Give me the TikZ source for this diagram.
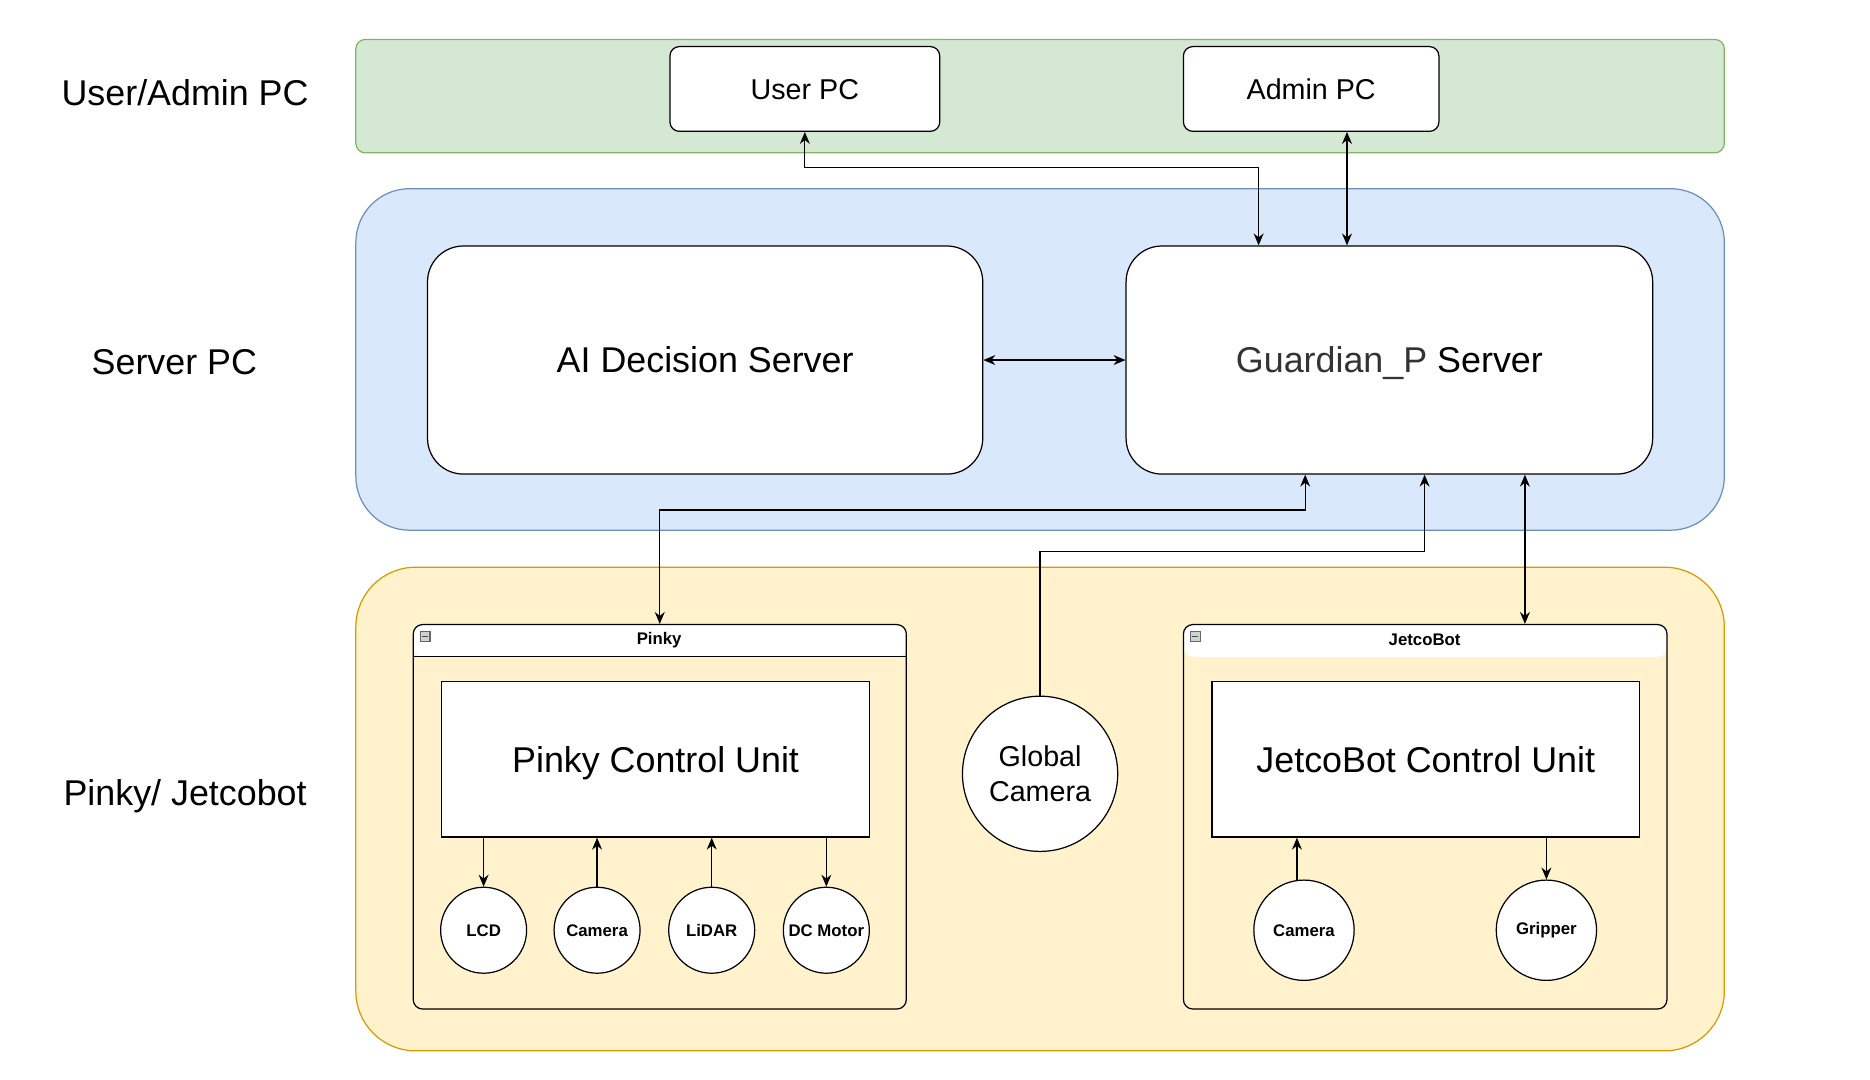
\documentclass[tikz,border=0pt]{standalone}
\usepackage{fontspec}
\setmainfont{Liberation Sans}
\usetikzlibrary{arrows.meta}

\definecolor{greenfill}{HTML}{D5E8D4}
\definecolor{greenline}{HTML}{82B366}
\definecolor{bluefill}{HTML}{DAE8FC}
\definecolor{blueline}{HTML}{6C8EBF}
\definecolor{orangefill}{HTML}{FFF2CC}
\definecolor{orangeline}{HTML}{D79B00}
\definecolor{guardtext}{HTML}{333333}

\tikzset{
    bigfont/.style={font=\fontsize{20.5}{24}\selectfont},
    midfont/.style={font=\fontsize{16.4}{19.7}\selectfont},
    smallfont/.style={font=\fontsize{9.6}{11.5}\selectfont\bfseries},
    pcbox/.style={draw, fill=white, rounded corners=0.19cm, inner sep=0pt,
        minimum height=1.704cm, text height=11.7pt, text depth=0pt, midfont},
    serverbox/.style={draw, fill=white, rounded corners=0.72cm, inner sep=0pt,
        minimum height=4.584cm, text height=14.7pt, text depth=0pt, bigfont},
    unitbox/.style={draw, fill=white, inner sep=0pt, minimum width=8.592cm,
        minimum height=3.12cm, text height=14.7pt, text depth=0pt, bigfont},
    robotbox/.style={draw, rounded corners=0.19cm, inner sep=0pt,
        minimum height=7.728cm},
    partcircle/.style={draw, fill=white, circle, inner sep=0pt, smallfont},
    minusicon/.style={draw=gray!80!black, fill=gray!35, inner sep=0pt,
        minimum size=0.2cm,
        path picture={\draw[line width=0.6pt, black!70]
            ([xshift=0.04cm]path picture bounding box.west) --
            ([xshift=-0.04cm]path picture bounding box.east);}},
}

\begin{document}
\begin{tikzpicture}[x=0.024cm, y=-0.024cm, line width=0.7pt,
        >={Stealth[length=2.4mm, width=2mm]}]
    % \draw[help lines, step=50] (0,0) grid (1566,904);
    \useasboundingbox (0,0) rectangle (1566,904.4);

    % layers
    \draw[fill=greenfill, draw=greenline, rounded corners=0.19cm] (298,33) rectangle (1444,128);
    \draw[fill=bluefill, draw=blueline, rounded corners=1.08cm] (298,158) rectangle (1444,444);
    \draw[fill=orangefill, draw=orangeline, rounded corners=1.2cm] (298,475) rectangle (1444,880);

    \node[bigfont] (layerpc) at (155,78) {User/Admin PC};
    \node[bigfont] (layerserver) at (146,303) {Server PC};
    \node[bigfont] (layerrobot) at (155,667) {Pinky/ Jetcobot};

    % user/admin PCs
    \node[pcbox, minimum width=5.424cm] (user) at (674,74.5) {User PC};
    \node[pcbox, minimum width=5.136cm] (admin) at (1098,74.5) {Admin PC};

    % servers
    \node[serverbox, minimum width=11.16cm] (ai) at (590.5,301.5) {AI Decision Server};
    \node[serverbox, minimum width=10.584cm] (guard) at (1163.5,301.5)
        {{\color{guardtext}Guardian\_P} Server};

    % robots
    \node[robotbox, minimum width=9.912cm,
        path picture={\fill[white] (path picture bounding box.north west) rectangle
            ([yshift=-0.648cm]path picture bounding box.north east);
            \draw ([yshift=-0.648cm]path picture bounding box.north west) --
            ([yshift=-0.648cm]path picture bounding box.north east);}]
        (pinky) at (552.5,684) {};
    \node[robotbox, minimum width=9.72cm,
        path picture={\fill[white] (path picture bounding box.north west) rectangle
            ([yshift=-0.648cm]path picture bounding box.north east);}]
        (jetco) at (1193.5,684) {};
    \node[smallfont] (pinkytitle) at (552,536) {Pinky};
    \node[smallfont] (jetcotitle) at (1193,536) {JetcoBot};
    \node[minusicon] (pinkyminus) at (356,533) {};
    \node[minusicon] (jetcominus) at (1001,533) {};

    \node[unitbox] (pcu) at (549,636) {Pinky Control Unit};
    \node[unitbox] (jcu) at (1194,636) {JetcoBot Control Unit};

    \node[partcircle, minimum size=1.728cm] (lcd) at (405,779) {LCD};
    \node[partcircle, minimum size=1.728cm] (pcam) at (500,779) {Camera};
    \node[partcircle, minimum size=1.728cm] (lidar) at (596,779) {LiDAR};
    \node[partcircle, minimum size=1.728cm] (motor) at (692,779) {DC Motor};
    \node[partcircle, minimum size=2.016cm] (jcam) at (1092,779) {Camera};
    \node[partcircle, minimum size=2.016cm] (gripper) at (1295,779) {Gripper};

    \node[draw, fill=white, circle, inner sep=0pt, minimum size=3.12cm, midfont,
        align=center] (globalcam) at (871,648) {Global\\Camera};

    % links
    \coordinate (userbend) at (1054,140);
    \coordinate (adminlink) at (1128,160);
    \coordinate (pinkybend) at (1093,427);
    \coordinate (cambend) at (1193,462);
    \coordinate (jetcolink) at (1277,460);

    \draw[<->] (user.south) |- (userbend) -- (userbend |- guard.north);
    \draw[<->] (admin.south -| adminlink) -- (guard.north -| adminlink);
    \draw[<->] (ai.east) -- (guard.west);
    \draw[<->] (guard.south -| pinkybend) -- (pinkybend) -| (pinky.north);
    \draw[->] (globalcam.north) |- (cambend) -- (guard.south -| cambend);
    \draw[<->] (guard.south -| jetcolink) -- (jetco.north -| jetcolink);

    \draw[->] (lcd.north |- pcu.south) -- (lcd.north);
    \draw[->] (pcam.north) -- (pcam.north |- pcu.south);
    \draw[->] (lidar.north) -- (lidar.north |- pcu.south);
    \draw[->] (motor.north |- pcu.south) -- (motor.north);
    \draw[->] (jcam.98) -- (jcam.98 |- jcu.south);
    \draw[->] (gripper.north |- jcu.south) -- (gripper.north);
\end{tikzpicture}
\end{document}
